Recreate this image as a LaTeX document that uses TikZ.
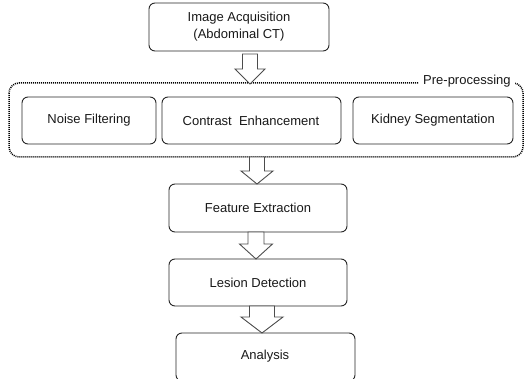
\documentclass[tikz,border=0pt]{standalone}
\usepackage{fontspec}
\setmainfont{Liberation Sans}
\begin{document}
\begin{tikzpicture}[x=1pt,y=-1pt,
  box/.style={draw=black!85, line width=0.9pt, rounded corners=6pt, fill=white},
  lbl/.style={font=\fontsize{13}{17}\selectfont, text=black!90, align=center},
  barrow/.style={draw=black!70, line width=0.9pt, fill=white, line join=miter},
  grp/.style={draw=black, line width=1.5pt, dash pattern=on 1pt off 1pt, rounded corners=10pt}]
\useasboundingbox (0,0) rectangle (527,379);
% group
\draw[grp] (9,83) rectangle (523,157);
\node[fill=white, inner xsep=4pt, inner ysep=3pt, anchor=west, lbl] (pre) at (419,81) {Pre-processing};
% boxes
\draw[box] (149,3) rectangle (329,51);
\node[lbl] (acq) at (239,27) {Image Acquisition\\(Abdominal CT)};
\draw[box] (22,97) rectangle (156,144);
\node[lbl] (noise) at (89,120.5) {Noise Filtering};
\draw[box] (162,97) rectangle (341,144);
\node[lbl] (contrast) at (251,120.5) {Contrast\ \ Enhancement};
\draw[box] (353,97) rectangle (513,144);
\node[lbl] (kidney) at (433,120.5) {Kidney Segmentation};
\draw[box] (169,184) rectangle (347,232);
\node[lbl] (feat) at (258,208) {Feature Extraction};
\draw[box] (169,259) rectangle (347,306);
\node[lbl] (lesion) at (258,282.5) {Lesion Detection};
\draw[box] (176,333) rectangle (355,381);
\node[lbl] (ana) at (265,356) {Analysis};
% block arrows: center, shaft half, head half, top, head y, tip
\newcommand{\blockarrow}[6]{%
  \draw[barrow] (#1-#2,#4) -- (#1+#2,#4) -- (#1+#2,#5) -- (#1+#3,#5) -- (#1,#6)
    -- (#1-#3,#5) -- (#1-#2,#5) -- cycle;}
\blockarrow{250}{7.5}{15}{54}{69}{84}
\blockarrow{257}{7.5}{16}{157}{171}{184}
\blockarrow{256}{8}{16.5}{232}{244}{259}
\blockarrow{262}{12.5}{21}{306}{317}{333}
\end{tikzpicture}
\end{document}
